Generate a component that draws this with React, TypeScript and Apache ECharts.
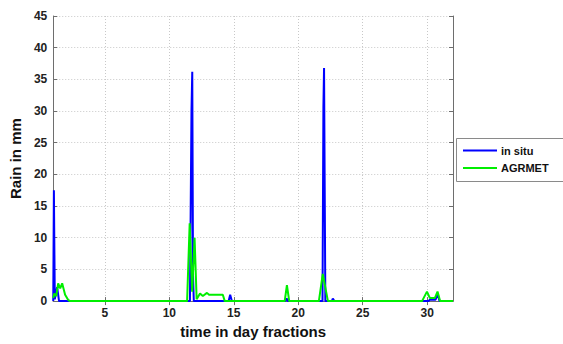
import React, { useEffect, useRef } from "react";
import * as echarts from "echarts";

// in situ rain gauge (day fraction, mm)
const inSituDays = [1.0, 1.05, 1.12, 1.3, 1.45, 11.6, 11.72, 11.78, 11.84, 11.9, 14.6, 14.72, 14.85, 19.0, 19.1, 19.2, 21.88, 21.95, 22.0, 22.05, 22.1, 22.6, 22.68, 22.8, 30.1, 30.2, 30.65, 30.8, 30.95, 32.0];
const inSituRain = [0, 17.5, 0.3, 2.2, 0, 0, 30, 36.2, 4, 0, 0, 1, 0, 0, 0.4, 0, 0, 30.5, 36.8, 18, 0, 0, 0.4, 0, 0, 0.2, 0.2, 1.2, 0, 0];

// AGRMET estimate (day fraction, mm)
const agrmetDays = [1.0, 1.08, 1.23, 1.38, 1.54, 1.69, 1.92, 2.15, 2.3, 11.38, 11.58, 11.77, 11.96, 12.12, 12.38, 12.6, 12.92, 13.08, 14.15, 14.3, 18.95, 19.12, 19.3, 21.6, 21.9, 22.3, 29.6, 29.98, 30.2, 30.6, 30.8, 31.0, 32.0];
const agrmetRain = [0.5, 1.2, 0.8, 2.8, 2.0, 2.8, 1.0, 0.2, 0, 0, 12.3, 1.5, 10, 0.3, 1.2, 0.8, 1.3, 1.0, 1.0, 0, 0, 2.5, 0, 0, 4.3, 0, 0, 1.5, 0.5, 0.5, 1.5, 0, 0];

const xTicks = [5, 10, 15, 20, 25, 30];

const pairs = (xs: number[], ys: number[]) => xs.map((x, i) => [x, ys[i]]);

const FONT = "Liberation Sans";

export default function App() {
  const ref = useRef<HTMLDivElement>(null);
  useEffect(() => {
    if (!ref.current) return;
    const chart = echarts.init(ref.current, undefined, { renderer: "svg" });
    const axisLineStyle = { color: "#6e6e6e", width: 1 };
    chart.setOption({
      animation: false,
      backgroundColor: "#ffffff",
      grid: { left: 51, right: 110, top: 16, bottom: 40, containLabel: false },
      graphic: [
        {
          type: "rect",
          z: 0,
          shape: { x: 456.5, y: 138.5, width: 120, height: 43 },
          style: { fill: "none", stroke: "#8a8a8a", lineWidth: 1 },
        },
      ],
      legend: {
        orient: "vertical",
        left: 463,
        top: 145,
        padding: 0,
        icon: "rect",
        itemWidth: 34,
        itemHeight: 2,
        itemGap: 6.5,
        textStyle: { fontFamily: FONT, fontWeight: "bold", fontSize: 11, color: "#111", padding: [0, 0, 0, -1] },
        data: ["in situ", "AGRMET"],
      },
      xAxis: [
        {
          type: "value",
          min: 1,
          max: 32,
          position: "bottom",
          name: "time in day fractions",
          nameLocation: "middle",
          nameGap: 18,
          nameTextStyle: { fontFamily: FONT, fontWeight: "bold", fontSize: 15, color: "#111" },
          axisLine: { show: true, lineStyle: axisLineStyle },
          axisTick: { show: true, inside: true, length: 4, customValues: xTicks, lineStyle: axisLineStyle },
          axisLabel: {
            customValues: xTicks,
            margin: 6,
            fontFamily: FONT,
            fontWeight: "bold",
            fontSize: 12,
            color: "#222",
          },
          splitLine: { show: true, lineStyle: { color: "#c8c8c8", type: [1, 2], width: 1 } },
        },
        {
          type: "value",
          min: 1,
          max: 32,
          position: "top",
          axisLine: { show: true, lineStyle: axisLineStyle },
          axisTick: { show: true, inside: true, length: 4, customValues: xTicks, lineStyle: axisLineStyle },
          axisLabel: { show: false },
          splitLine: { show: false },
        },
      ],
      yAxis: [
        {
          type: "value",
          min: 0,
          max: 45,
          interval: 5,
          position: "left",
          name: "Rain in mm",
          nameLocation: "middle",
          nameGap: 24,
          nameTextStyle: { fontFamily: FONT, fontWeight: "bold", fontSize: 15, color: "#111" },
          axisLine: { show: true, lineStyle: axisLineStyle },
          axisTick: { show: true, inside: true, length: 4, lineStyle: axisLineStyle },
          axisLabel: { margin: 6, fontFamily: FONT, fontWeight: "bold", fontSize: 12, color: "#222" },
          splitLine: { show: true, lineStyle: { color: "#c8c8c8", type: [1, 2], width: 1 } },
        },
        {
          type: "value",
          min: 0,
          max: 45,
          interval: 5,
          position: "right",
          axisLine: { show: true, lineStyle: axisLineStyle },
          axisTick: { show: true, inside: true, length: 4, lineStyle: axisLineStyle },
          axisLabel: { show: false },
          splitLine: { show: false },
        },
      ],
      series: [
        {
          name: "in situ",
          type: "line",
          xAxisIndex: 0,
          yAxisIndex: 0,
          data: pairs(inSituDays, inSituRain),
          symbol: "none",
          color: "#0000ff",
          lineStyle: { color: "#0000ff", width: 2 },
          z: 3,
        },
        {
          name: "AGRMET",
          type: "line",
          xAxisIndex: 0,
          yAxisIndex: 0,
          data: pairs(agrmetDays, agrmetRain),
          symbol: "none",
          color: "#00ee00",
          lineStyle: { color: "#00ee00", width: 2 },
          z: 4,
        },
      ],
    });
    return () => chart.dispose();
  }, []);
  return (
    <div
      ref={ref}
      style={{ position: "fixed", left: 0, top: 0, width: 563, height: 344, background: "#fff" }}
    />
  );
}
